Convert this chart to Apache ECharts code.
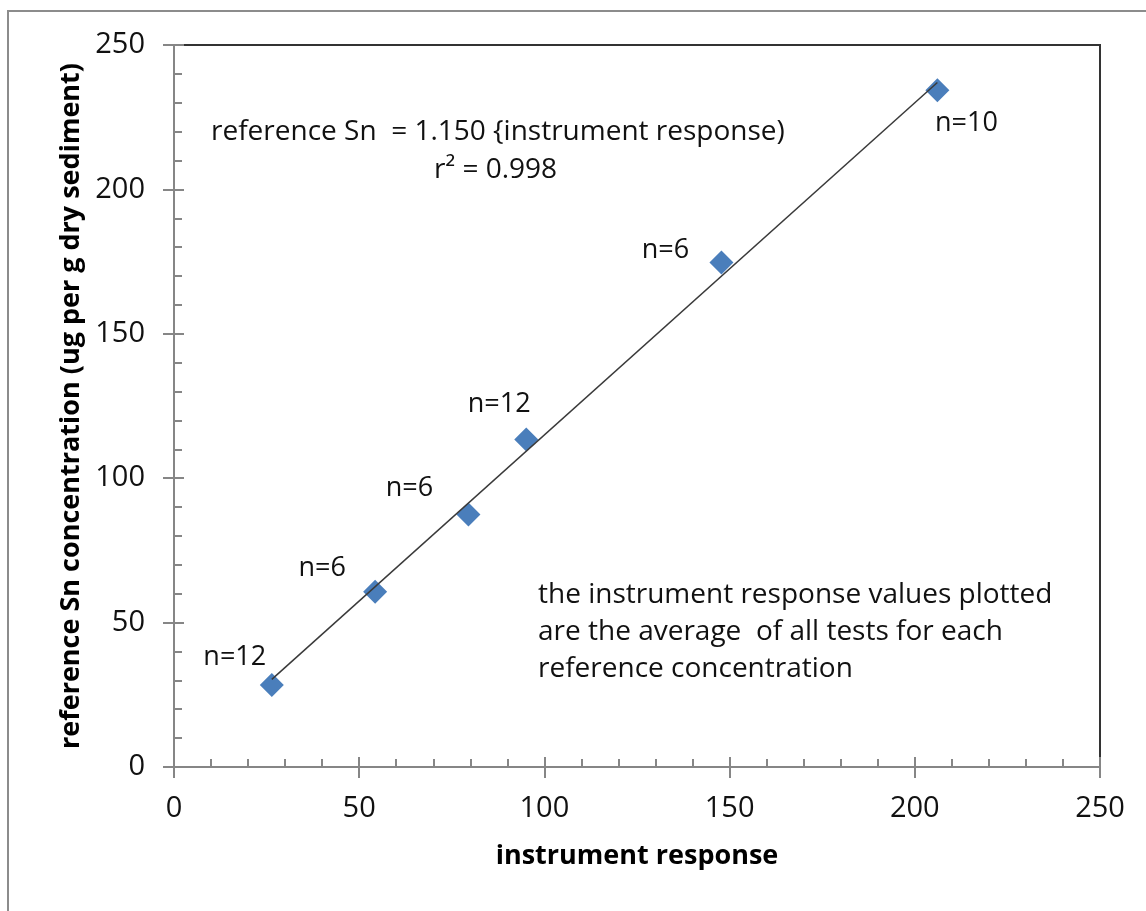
<!DOCTYPE html>
<html>
<head>
<meta charset="utf-8">
<title>Reference Sn vs instrument response</title>
<script src="https://cdn.jsdelivr.net/npm/echarts@6/dist/echarts.min.js"></script>
<style>
  html, body { margin: 0; padding: 0; background: #fff; }
  #chart { width: 1146px; height: 911px; }
</style>
</head>
<body>
<div id="chart"></div>
<script>
// Calibration data: averaged instrument response vs certified Sn concentration
const instrumentResponse = [26.4, 54.3, 79.5, 95.1, 147.8, 206.1];
const referenceSn = [28.4, 60.7, 87.4, 113.4, 174.7, 234.3];
const testCounts = [12, 6, 6, 12, 6, 10];

// Regression through the origin
const fitSlope = 1.150;
const fitR2 = 0.998;

const axisTicks = [0, 50, 100, 150, 200, 250];

// Where each "n=" label sits relative to its marker (px)
const labelOffsets = [[-37, -28], [-53, -23], [-59, -26], [-27, -35], [-56, -12], [29, 33]];

const FONT = '"Open Sans", "Noto Sans", sans-serif';
const TEXT = '#111';
const AXIS_GRAY = '#868686';

const points = instrumentResponse.map((x, i) => ({
  value: [x, referenceSn[i], testCounts[i]],
  label: { offset: labelOffsets[i] }
}));

const xMin = Math.min(...instrumentResponse);
const xMax = Math.max(...instrumentResponse);
const fitLine = [[xMin, fitSlope * xMin], [xMax, fitSlope * xMax]];

const axisMin = axisTicks[0];
const axisMax = axisTicks[axisTicks.length - 1];
const axisStep = axisTicks[1] - axisTicks[0];

function mainAxis(extra) {
  return Object.assign({
    type: 'value',
    min: axisMin, max: axisMax, interval: axisStep,
    nameLocation: 'middle',
    nameTextStyle: { fontFamily: FONT, fontSize: 27, fontWeight: 'bold', color: '#000' },
    axisLine: { show: true, lineStyle: { color: AXIS_GRAY, width: 2 } },
    axisTick: { show: true, inside: false, length: 11, lineStyle: { color: AXIS_GRAY, width: 2 } },
    minorTick: { show: false },
    splitLine: { show: false }
  }, extra);
}

// Overlay axis that supplies the inward half of the major ticks and the minor ticks
function innerTickAxis(extra) {
  return Object.assign({
    type: 'value',
    min: axisMin, max: axisMax, interval: axisStep,
    axisLine: { show: false },
    axisTick: { show: true, inside: true, length: 10, lineStyle: { color: AXIS_GRAY, width: 2 } },
    minorTick: { show: true, splitNumber: 5, length: 8, lineStyle: { color: AXIS_GRAY, width: 2 } },
    splitLine: { show: false },
    minorSplitLine: { show: false },
    axisLabel: { show: false }
  }, extra);
}

const chart = echarts.init(document.getElementById('chart'), null, { renderer: 'canvas' });

chart.setOption({
  backgroundColor: '#fff',
  animation: false,
  grid: {
    left: 174, right: 46, top: 45, bottom: 144,
    show: true, borderColor: '#333', borderWidth: 2, backgroundColor: 'transparent'
  },
  xAxis: [
    mainAxis({ position: 'bottom', name: 'instrument response', nameGap: 76,
      axisLabel: { fontFamily: FONT, fontSize: 29, color: TEXT, margin: 27 } }),
    innerTickAxis({ position: 'bottom' })
  ],
  yAxis: [
    mainAxis({ position: 'left', name: 'reference Sn concentration (ug per g dry sediment)', nameGap: 87,
      axisLabel: { fontFamily: FONT, fontSize: 29, color: TEXT, margin: 29 } }),
    innerTickAxis({ position: 'left' })
  ],
  series: [
    {
      type: 'scatter',
      xAxisIndex: 0, yAxisIndex: 0,
      symbol: 'diamond',
      symbolSize: 24,
      itemStyle: { color: '#4a7ebb', opacity: 1 },
      z: 2,
      label: {
        show: true,
        position: 'inside',
        fontFamily: FONT, fontSize: 27, color: TEXT, opacity: 1,
        formatter: p => 'n=' + p.value[2]
      },
      data: points
    },
    {
      type: 'line',
      xAxisIndex: 0, yAxisIndex: 0,
      data: fitLine,
      symbol: 'none',
      lineStyle: { color: '#3a3a3a', width: 1.5 },
      z: 3,
      silent: true
    }
  ],
  graphic: [
    {
      type: 'rect', silent: true, z: -1,
      shape: { x: 8, y: 11, width: 1300, height: 1000 },
      style: { fill: 'none', stroke: '#8c8c8c', lineWidth: 2 }
    },
    {
      type: 'text', left: 211, top: 118,
      style: {
        text: 'reference Sn  = ' + fitSlope.toFixed(3) + ' {instrument response)',
        font: '28px ' + FONT, fill: TEXT
      }
    },
    {
      type: 'text', left: 434, top: 156,
      style: { text: 'r\u00B2 = ' + fitR2.toFixed(3), font: '28px ' + FONT, fill: TEXT }
    },
    {
      type: 'text', left: 538, top: 577,
      style: {
        text: 'the instrument response values plotted\nare the average  of all tests for each\nreference concentration',
        font: '28px ' + FONT, lineHeight: 37, fill: TEXT
      }
    }
  ]
});
</script>
</body>
</html>
